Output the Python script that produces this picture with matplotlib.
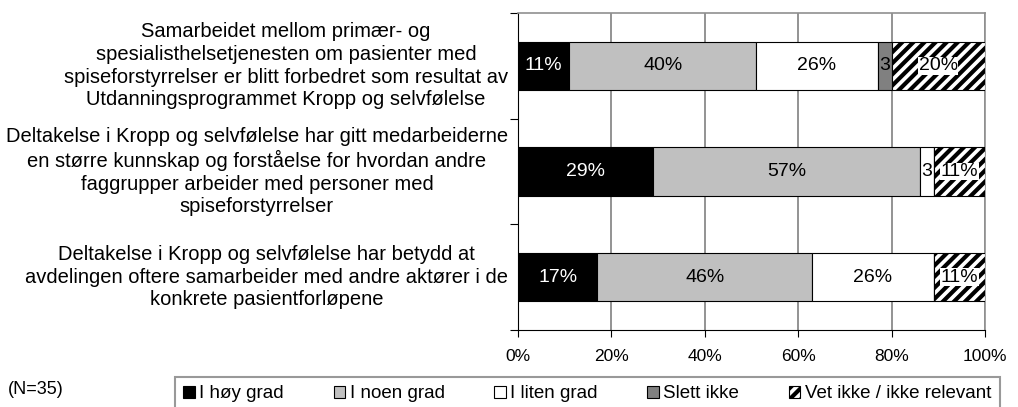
import matplotlib
matplotlib.use("Agg")
import matplotlib.pyplot as plt
from matplotlib.patches import Patch

plt.rcParams['font.family'] = ['Liberation Sans', 'DejaVu Sans']
plt.rcParams['hatch.linewidth'] = 3

# statements (top to bottom)
statements = [
    "Samarbeidet mellom primær- og\nspesialisthelsetjenesten om pasienter med\n"
    "spiseforstyrrelser er blitt forbedret som resultat av\nUtdanningsprogrammet Kropp og selvfølelse",
    "Deltakelse i Kropp og selvfølelse har gitt medarbeiderne\nen større kunnskap og forståelse for hvordan andre\n"
    "faggrupper arbeider med personer med\nspiseforstyrrelser",
    "Deltakelse i Kropp og selvfølelse har betydd at\navdelingen oftere samarbeider med andre aktører i de\n"
    "konkrete pasientforløpene",
]

categories = ["I høy grad", "I noen grad", "I liten grad", "Slett ikke", "Vet ikke / ikke relevant"]
hoy_grad = [11, 29, 17]
noen_grad = [40, 57, 46]
liten_grad = [26, 3, 26]
slett_ikke = [3, 0, 0]
vet_ikke = [20, 11, 11]
series = [hoy_grad, noen_grad, liten_grad, slett_ikke, vet_ikke]

colors = ['#000000', '#c0c0c0', '#ffffff', '#808080', '#ffffff']
hatches = [None, None, None, None, '///']
text_colors = ['white', 'black', 'black', 'black', 'black']

fig = plt.figure(figsize=(10.18, 4.07), dpi=100)
ax = fig.add_axes([518 / 1018, 1 - 330 / 407, 467 / 1018, 317 / 407])

ypos = list(range(len(statements)))
left = [0] * len(statements)
for k, vals in enumerate(series):
    ax.barh(ypos, vals, left=left, height=0.455, color=colors[k], hatch=hatches[k],
            edgecolor='black', linewidth=0.8, zorder=3)
    for i, v in enumerate(vals):
        if v == 0:
            continue
        lbl = "%d%%" % v if v > 5 else "%d" % v
        bbox = None
        if hatches[k]:
            bbox = dict(facecolor='white', edgecolor='none', pad=0.3)
        ax.text(left[i] + v / 2, ypos[i], lbl, ha='center', va='center', fontsize=14,
                color=text_colors[k], bbox=bbox, zorder=4)
    left = [left[i] + vals[i] for i in range(len(vals))]

ax.set_xlim(0, 100)
ax.set_ylim(2.5, -0.5)
ax.set_xticks([0, 20, 40, 60, 80, 100])
ax.set_xticklabels(["0%", "20%", "40%", "60%", "80%", "100%"], fontsize=12.5)
ax.set_yticks([-0.5, 0.5, 1.5, 2.5])
ax.set_yticklabels([])
ax.tick_params(axis='x', length=5, pad=9, color='black')
ax.tick_params(axis='y', length=6, color='black')
ax.grid(axis='x', color='#808080', linewidth=1.2, zorder=0)

for s in ['top', 'right']:
    ax.spines[s].set_color('#909090')
    ax.spines[s].set_linewidth(1.2)
ax.spines['left'].set_color('black')
ax.spines['bottom'].set_color('black')

for i, txt in enumerate(statements):
    ax.text(-10 / 467, ypos[i], txt, transform=ax.get_yaxis_transform(),
            ha='right', va='center', multialignment='center', fontsize=14.5,
            linespacing=1.25)

fig.text(8 / 1018, 1 - 389 / 407, "(N=35)", fontsize=13, va='center')

handles = [Patch(facecolor=colors[k], edgecolor='black', hatch=hatches[k], linewidth=0.8)
           for k in range(len(categories))]
leg = fig.legend(handles, categories, loc='upper left', bbox_to_anchor=(175 / 1018, 1 - 377 / 407),
                 ncol=5, frameon=True, fancybox=False, edgecolor='#808080', fontsize=13.5,
                 handlelength=0.6, handleheight=0.6, handletextpad=0.25, columnspacing=2.65,
                 borderaxespad=0, borderpad=0.45)
leg.get_frame().set_linewidth(1.5)

fig.savefig("out.png", dpi=100)
